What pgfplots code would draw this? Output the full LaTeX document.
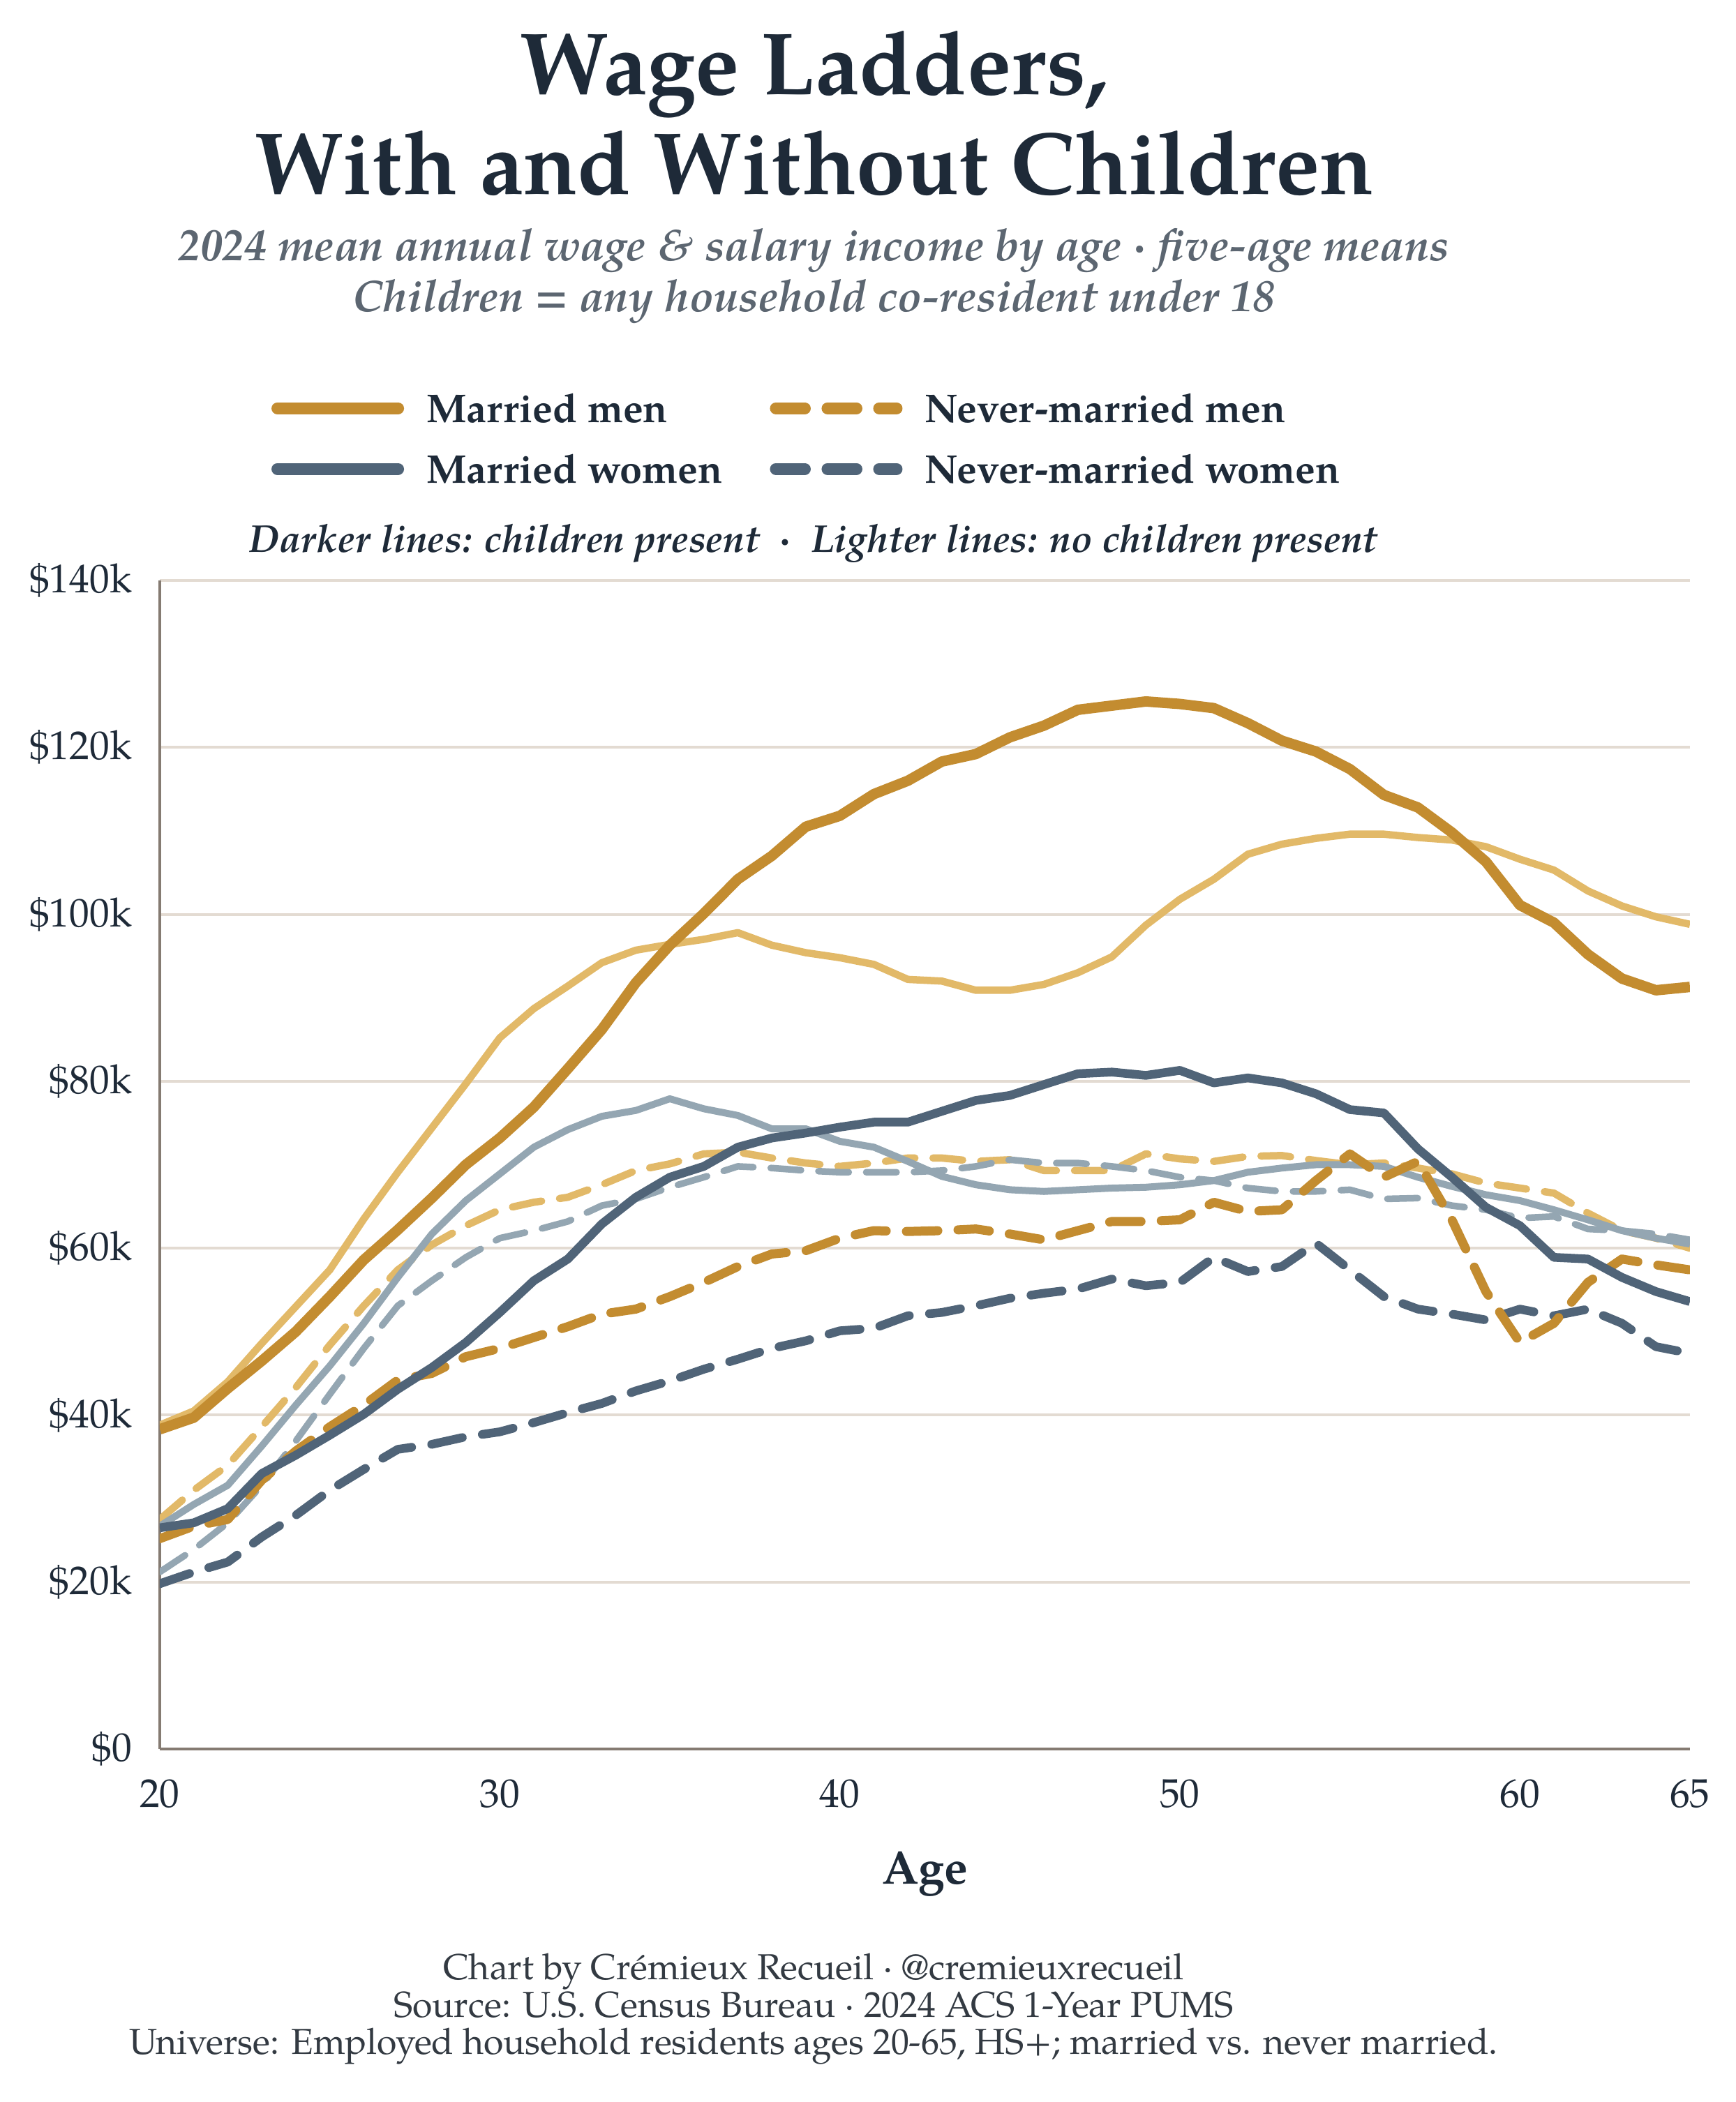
\documentclass[border=0pt]{standalone}
\usepackage{fontspec}
\setmainfont{TeX Gyre Pagella}
\usepackage{pgfplots}
\pgfplotsset{compat=1.18}
\usepackage{pgfplotstable}

\definecolor{dkgold}{HTML}{C38C30}
\definecolor{ltgold}{HTML}{E2B968}
\definecolor{dkslate}{HTML}{506478}
\definecolor{ltslate}{HTML}{94A6B2}
\definecolor{titlecol}{HTML}{1E2A38}
\definecolor{subcol}{HTML}{5C6671}
\definecolor{axiscol}{HTML}{857B72}
\definecolor{gridcol}{HTML}{E3DBD2}
\definecolor{footcol}{HTML}{333A42}

\pgfplotstableread{
age mm mmn nm nmn mw mwn nw nwn
20 38.3 38.8 25.2 27.5 26.5 26.7 19.8 21.2
21 39.7 40.5 26.7 31.0 27.1 29.3 21.2 23.9
22 43.2 44.0 27.5 34.0 28.8 31.6 22.4 27.1
23 46.5 48.6 32.2 38.6 33.0 36.3 25.4 31.6
24 50.0 53.0 35.7 43.3 35.2 41.2 28.0 36.9
25 54.2 57.4 38.6 48.4 37.6 45.9 31.0 42.5
26 58.6 63.5 41.2 53.1 40.1 51.0 33.5 48.0
27 62.2 69.1 44.2 57.4 43.1 56.5 35.9 53.1
28 66.0 74.4 45.0 60.4 45.7 61.7 36.5 56.1
29 70.0 79.7 47.0 62.7 48.7 65.7 37.4 58.9
30 73.2 85.2 48.0 64.6 52.3 68.9 38.0 61.2
31 76.9 88.7 49.3 65.5 56.1 72.1 39.1 62.1
32 81.5 91.4 50.6 66.1 58.7 74.2 40.3 63.2
33 86.2 94.2 52.1 67.6 62.9 75.8 41.4 65.1
34 91.8 95.7 52.7 69.3 66.1 76.5 42.9 65.9
35 96.3 96.4 54.2 70.1 68.5 77.9 44.1 67.3
36 100.1 97.0 55.9 71.3 69.8 76.7 45.5 68.5
37 104.2 97.8 57.8 71.5 72.1 75.9 46.7 69.8
38 107.0 96.3 59.3 70.8 73.2 74.3 48.0 69.6
39 110.5 95.4 59.7 70.2 73.8 74.3 48.9 69.3
40 111.8 94.8 61.2 69.8 74.5 72.8 50.1 69.1
41 114.4 94.0 62.1 70.2 75.1 72.1 50.4 69.1
42 116.0 92.2 62.0 70.8 75.1 70.4 51.9 69.1
43 118.3 92.0 62.1 70.8 76.4 68.6 52.3 69.3
44 119.2 90.9 62.3 70.4 77.7 67.6 53.1 69.8
45 121.2 90.9 61.7 70.6 78.3 67.0 54.0 70.6
46 122.6 91.6 61.0 69.3 79.6 66.8 54.6 70.2
47 124.5 93.0 62.1 69.3 80.9 67.0 55.1 70.2
48 125.0 94.9 63.2 69.3 81.1 67.2 56.3 69.8
49 125.5 98.7 63.2 71.3 80.7 67.3 55.5 69.3
50 125.2 101.8 63.4 70.7 81.3 67.6 55.9 68.5
51 124.7 104.2 65.5 70.4 79.8 68.1 58.9 68.1
52 122.9 107.2 64.4 71.0 80.4 69.1 57.2 67.2
53 120.8 108.4 64.6 71.1 79.8 69.6 57.8 66.8
54 119.5 109.1 68.1 70.5 78.5 70.0 60.6 66.8
55 117.4 109.6 71.3 70.0 76.6 70.0 57.4 67.0
56 114.3 109.6 68.5 70.2 76.2 69.8 54.2 65.9
57 112.8 109.2 70.4 69.6 71.9 68.5 52.7 66.0
58 109.8 108.9 63.4 68.9 68.5 67.4 52.1 65.1
59 106.3 108.1 54.8 67.8 64.9 66.4 51.4 64.6
60 101.1 106.6 48.7 67.2 62.7 65.7 52.7 63.6
61 99.0 105.3 51.0 66.6 58.9 64.6 51.9 63.8
62 95.2 102.8 55.9 64.2 58.7 63.4 52.7 62.3
63 92.3 101.0 58.7 62.1 56.5 62.1 51.0 62.1
64 90.9 99.7 58.0 61.2 54.8 61.2 48.2 61.7
65 91.3 98.8 57.4 60.0 53.6 60.5 47.4 61.0
}\wagedata

\begin{document}
\begin{tikzpicture}
\path (-45.8pt,-101.2pt) rectangle (451.8pt,501.4pt);
\begin{axis}[
  at={(0,0)}, anchor=south west,
  scale only axis, width=438.6pt, height=335pt,
  xmin=20, xmax=65, ymin=0, ymax=140,
  axis x line*=bottom, axis y line*=left,
  axis line style={draw=axiscol, line width=0.8pt, -},
  xtick={20,30,40,50,60,65}, xticklabels={20,30,40,50,60,65},
  ytick={0,20,40,60,80,100,120,140},
  yticklabels={\$0,\$20k,\$40k,\$60k,\$80k,\$100k,\$120k,\$140k},
  major tick length=0pt,
  ymajorgrids, grid style={draw=gridcol, line width=0.8pt},
  tick label style={font=\fontsize{11.5}{13}\selectfont, text=titlecol},
  xticklabel style={anchor=base, yshift=-16.6pt},
  yticklabel style={anchor=east, inner sep=0pt, xshift=-7.8pt},
  legend columns=2,
  legend cell align=left,
  legend image code/.code={\draw[#1] (1.7pt,1.4pt) -- (36.3pt,1.4pt);},
  legend style={at={(0.073,1.1588)}, anchor=north west, draw=none, fill=none,
    inner sep=0pt, outer sep=0pt, row sep=6.9pt,
    font=\bfseries\fontsize{11.5}{13.8}\selectfont,
    nodes={inner sep=0pt, text height=8pt, text depth=2.5pt, text=titlecol},
    /tikz/every odd column/.append style={column sep=6.4pt},
    /tikz/every even column/.append style={column sep=13.6pt}},
  every axis plot/.append style={line join=round},
]
% lighter lines (no children)
\addplot[ltgold, line width=2.1pt, forget plot] table[x=age,y=mmn]{\wagedata};
\addplot[ltgold, line width=2.1pt, line cap=round, dash pattern=on 8.5pt off 5.2pt, forget plot] table[x=age,y=nmn]{\wagedata};
\addplot[ltslate, line width=2.0pt, forget plot] table[x=age,y=mwn]{\wagedata};
\addplot[ltslate, line width=1.9pt, line cap=round, dash pattern=on 8.7pt off 5pt, forget plot] table[x=age,y=nwn]{\wagedata};
% darker lines (children)
\addplot[dkslate, line width=2.5pt, line cap=round, dash pattern=on 9pt off 5.8pt, forget plot] table[x=age,y=nw]{\wagedata};
\addplot[dkgold, line width=2.6pt, line cap=round, dash pattern=on 9pt off 5.8pt, forget plot] table[x=age,y=nm]{\wagedata};
\addplot[dkslate, line width=2.5pt, forget plot] table[x=age,y=mw]{\wagedata};
\addplot[dkgold, line width=3.0pt, forget plot] table[x=age,y=mm]{\wagedata};

\addlegendimage{dkgold, line width=3.4pt, line cap=round}
\addlegendentry{Married men}
\addlegendimage{dkgold, line width=3.4pt, line cap=round, dash pattern=on 8.3pt off 6.5pt}
\addlegendentry{Never-married men}
\addlegendimage{dkslate, line width=3.4pt, line cap=round}
\addlegendentry{Married women}
\addlegendimage{dkslate, line width=3.4pt, line cap=round, dash pattern=on 8.3pt off 6.5pt}
\addlegendentry{Never-married women}
\end{axis}

\node[anchor=base, font=\bfseries\fontsize{25.3}{30}\selectfont, text=titlecol] at (187.6pt,474.3pt) {Wage Ladders,};
\node[anchor=base, font=\bfseries\fontsize{25.3}{30}\selectfont, text=titlecol] at (187.6pt,445.6pt) {With and Without Children};
\node[anchor=base, font=\bfseries\itshape\fontsize{12.7}{14}\selectfont, text=subcol] at (187.4pt,426.6pt) {2024 mean annual wage \& salary income by age · five-age means};
\node[anchor=base, font=\bfseries\itshape\fontsize{12.7}{14}\selectfont, text=subcol] at (187.4pt,412pt) {Children = any household co-resident under 18};
\node[anchor=base, font=\bfseries\itshape\fontsize{11.1}{12}\selectfont, text=titlecol] at (187.4pt,343pt) {Darker lines: children present\ \ ·\ \ Lighter lines: no children present};
\node[anchor=base, font=\bfseries\fontsize{13.5}{15}\selectfont, text=titlecol] at (219.3pt,-38.6pt) {Age};
\node[anchor=base, font=\fontsize{10.35}{12}\selectfont, text=footcol] at (187.4pt,-66pt) {Chart by Crémieux Recueil · @cremieuxrecueil};
\node[anchor=base, font=\fontsize{10.35}{12}\selectfont, text=footcol] at (187.4pt,-76.8pt) {Source: U.S. Census Bureau · 2024 ACS 1-Year PUMS};
\node[anchor=base, font=\fontsize{10.35}{12}\selectfont, text=footcol] at (187.4pt,-87.4pt) {Universe: Employed household residents ages 20-65, HS+; married vs. never married.};
\end{tikzpicture}
\end{document}
